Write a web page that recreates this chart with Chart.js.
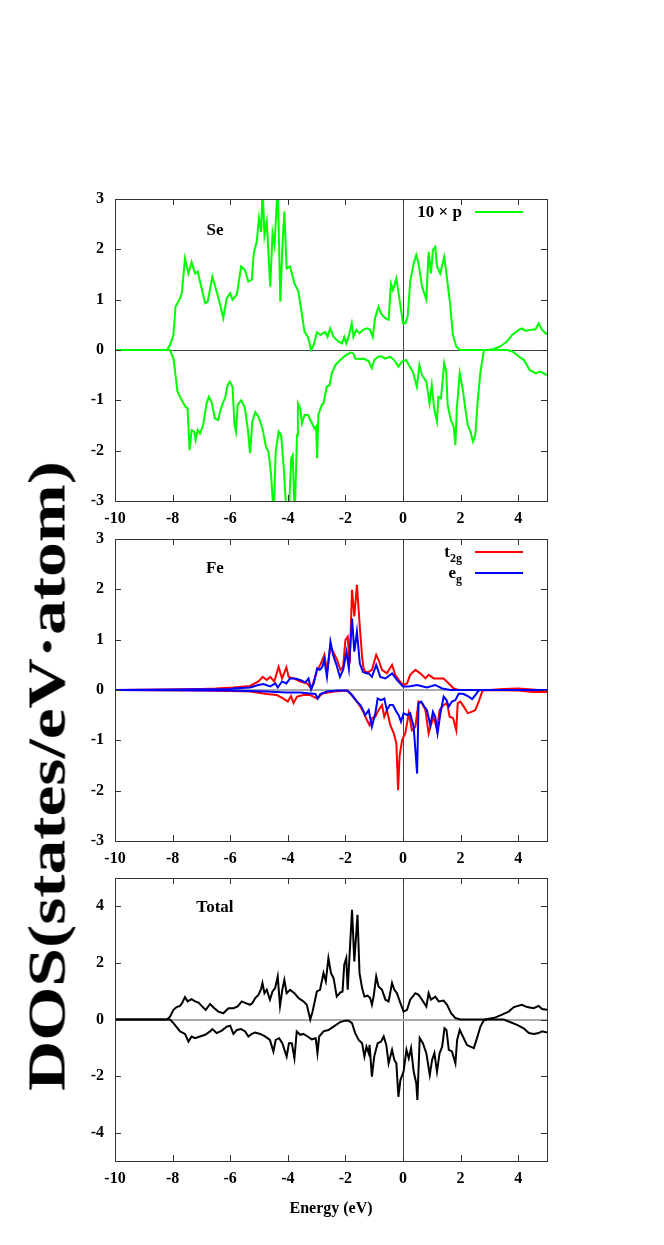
<!DOCTYPE html>
<html>
<head>
<meta charset="utf-8">
<script src="https://cdn.jsdelivr.net/npm/chart.js@4"></script>
<style>
  body { margin: 0; background: #fff; }
  #page { position: relative; width: 664px; height: 1245px; overflow: hidden; }
  canvas { position: absolute; left: 0; }
  #ytitle {
    position: absolute; left: 47px; top: 776px;
    font: bold 52px "Liberation Serif", "Times New Roman", serif;
    white-space: nowrap; color: #000;
  }
</style>
</head>
<body>
<div id="page">
  <canvas id="c1" width="664" height="360" style="top:170px"></canvas>
  <canvas id="c2" width="664" height="360" style="top:510px"></canvas>
  <canvas id="c3" width="664" height="395" style="top:850px"></canvas>
  <div id="ytitle">DOS(states/eV·atom)</div>
</div>
<script>
// ========================
// DATA  [energy (eV), DOS]
// ========================
const xTicks = [-10, -8, -6, -4, -2, 0, 2, 4];
const yTicksFe = [-3, -2, -1, 0, 1, 2, 3];
const yTicksTot = [-4, -2, 0, 2, 4];

// Se p (x10), spin up / spin down
const seUp = [[-10,0],[-8.2,0],[-8.09,0.1],[-7.97,0.3],[-7.9,0.86],[-7.74,1.03],[-7.68,1.13],[-7.57,1.82],[-7.45,1.52],[-7.34,1.75],[-7.22,1.52],[-7.13,1.56],[-6.87,0.93],[-6.78,0.96],[-6.62,1.46],[-6.47,1.16],[-6.35,0.9],[-6.24,0.63],[-6.12,1.03],[-6.0,1.13],[-5.92,1.0],[-5.77,1.1],[-5.62,1.66],[-5.5,1.6],[-5.37,1.36],[-5.25,1.4],[-5.18,1.93],[-5.08,2.15],[-5.0,2.62],[-4.92,2.35],[-4.88,3.3],[-4.81,2.28],[-4.73,2.55],[-4.61,1.26],[-4.53,2.32],[-4.46,2.08],[-4.35,3.3],[-4.26,0.96],[-4.19,2.02],[-4.12,2.75],[-4.04,1.62],[-3.92,1.66],[-3.77,1.32],[-3.63,1.16],[-3.54,0.82],[-3.42,0.36],[-3.3,0.26],[-3.19,0.0],[-3.1,0.1],[-2.99,0.35],[-2.87,0.3],[-2.7,0.36],[-2.62,0.26],[-2.53,0.43],[-2.41,0.26],[-2.24,0.17],[-2.12,0.13],[-2.04,0.26],[-1.97,0.13],[-1.89,0.26],[-1.78,0.53],[-1.72,0.26],[-1.62,0.4],[-1.51,0.33],[-1.39,0.4],[-1.25,0.43],[-1.14,0.4],[-1.05,0.26],[-0.97,0.63],[-0.85,0.86],[-0.77,0.73],[-0.62,0.63],[-0.5,0.6],[-0.42,1.32],[-0.35,1.19],[-0.23,1.42],[-0.12,1.0],[0.0,0.53],[0.08,0.53],[0.16,0.66],[0.25,1.36],[0.37,1.72],[0.46,1.89],[0.54,1.72],[0.66,1.26],[0.81,1.0],[0.89,1.95],[0.97,1.52],[1.04,1.99],[1.12,2.05],[1.18,1.66],[1.29,1.52],[1.43,1.85],[1.52,1.46],[1.64,0.89],[1.73,0.3],[1.85,0.07],[1.97,0],[2.97,0],[3.15,0.02],[3.38,0.07],[3.61,0.17],[3.79,0.3],[4.02,0.4],[4.13,0.43],[4.25,0.38],[4.42,0.4],[4.6,0.41],[4.71,0.53],[4.83,0.4],[5.0,0.31]];
const seDn = [[-10,0],[-8.09,0],[-7.97,-0.17],[-7.9,-0.5],[-7.83,-0.83],[-7.68,-1.0],[-7.55,-1.13],[-7.48,-1.16],[-7.41,-1.99],[-7.34,-1.59],[-7.25,-1.62],[-7.2,-1.79],[-7.13,-1.59],[-7.05,-1.66],[-6.94,-1.49],[-6.82,-1.06],[-6.74,-0.93],[-6.65,-1.03],[-6.53,-1.36],[-6.42,-1.39],[-6.32,-1.16],[-6.24,-1.03],[-6.18,-0.96],[-6.09,-0.7],[-6.01,-0.63],[-5.92,-0.73],[-5.85,-1.49],[-5.8,-1.62],[-5.74,-1.09],[-5.62,-1.0],[-5.5,-1.13],[-5.39,-1.56],[-5.31,-2.05],[-5.23,-1.42],[-5.13,-1.23],[-5.02,-1.32],[-4.88,-1.56],[-4.76,-1.92],[-4.67,-2.02],[-4.58,-2.48],[-4.49,-3.3],[-4.42,-2.02],[-4.32,-1.62],[-4.23,-1.69],[-4.14,-2.35],[-4.04,-3.3],[-3.97,-3.3],[-3.88,-2.15],[-3.83,-2.09],[-3.76,-3.3],[-3.68,-1.69],[-3.65,-1.06],[-3.57,-1.16],[-3.51,-1.46],[-3.42,-1.29],[-3.3,-1.29],[-3.22,-1.39],[-3.07,-1.56],[-3.02,-1.52],[-2.98,-2.15],[-2.94,-1.29],[-2.82,-1.09],[-2.76,-1.06],[-2.65,-0.73],[-2.55,-0.7],[-2.47,-0.46],[-2.35,-0.3],[-2.18,-0.2],[-2.0,-0.11],[-1.83,-0.05],[-1.72,-0.07],[-1.66,-0.17],[-1.51,-0.18],[-1.37,-0.17],[-1.2,-0.22],[-1.08,-0.36],[-1.0,-0.2],[-0.85,-0.13],[-0.73,-0.13],[-0.62,-0.17],[-0.45,-0.13],[-0.31,-0.2],[-0.16,-0.33],[-0.04,-0.23],[0.11,-0.2],[0.23,-0.33],[0.34,-0.43],[0.48,-0.73],[0.57,-0.3],[0.66,-0.5],[0.81,-0.63],[0.92,-1.06],[1.0,-0.7],[1.08,-1.16],[1.18,-1.42],[1.23,-0.93],[1.32,-0.96],[1.43,-0.26],[1.5,-0.43],[1.55,-1.09],[1.66,-1.39],[1.76,-1.52],[1.82,-1.89],[1.87,-1.16],[1.97,-0.46],[2.08,-0.8],[2.16,-1.16],[2.25,-1.49],[2.34,-1.62],[2.43,-1.82],[2.51,-1.69],[2.6,-0.96],[2.69,-0.43],[2.81,0],[3.62,0],[3.8,-0.03],[4.02,-0.13],[4.2,-0.2],[4.4,-0.4],[4.6,-0.46],[4.77,-0.43],[5.0,-0.5]];

// Fe d : t2g / eg, spin up / spin down
const t2gUp = [[-10,0],[-8,0.01],[-7,0.02],[-6.5,0.03],[-5.89,0.05],[-5.31,0.08],[-5.02,0.17],[-4.87,0.26],[-4.73,0.2],[-4.61,0.26],[-4.47,0.17],[-4.32,0.46],[-4.2,0.23],[-4.05,0.45],[-3.97,0.26],[-3.8,0.23],[-3.57,0.17],[-3.33,0.13],[-3.19,0.03],[-3.1,0.17],[-2.98,0.4],[-2.87,0.5],[-2.73,0.7],[-2.64,0.36],[-2.52,0.86],[-2.4,0.73],[-2.29,0.6],[-2.17,0.4],[-2.08,0.46],[-2.0,0.99],[-1.92,1.06],[-1.85,0.53],[-1.77,1.99],[-1.69,1.46],[-1.6,2.09],[-1.5,1.26],[-1.42,0.66],[-1.37,0.43],[-1.3,0.36],[-1.19,0.36],[-1.08,0.4],[-0.93,0.7],[-0.85,0.6],[-0.73,0.4],[-0.56,0.33],[-0.38,0.5],[-0.27,0.3],[-0.15,0.2],[0,0.1],[0.14,0.13],[0.25,0.3],[0.43,0.4],[0.6,0.33],[0.78,0.23],[0.89,0.3],[1.07,0.23],[1.24,0.23],[1.41,0.23],[1.59,0.13],[1.76,0.03],[1.94,0],[3.0,0],[3.5,0.02],[4.0,0.03],[4.5,0.01],[5.0,-0.02]];
const t2gDn = [[-10,0],[-7,-0.01],[-6,-0.02],[-5.31,-0.03],[-4.73,-0.08],[-4.38,-0.1],[-4.15,-0.17],[-4.0,-0.23],[-3.89,-0.12],[-3.8,-0.26],[-3.68,-0.13],[-3.45,-0.1],[-3.22,-0.1],[-2.98,-0.17],[-2.8,-0.07],[-2.4,-0.03],[-1.94,-0.01],[-1.83,-0.07],[-1.6,-0.23],[-1.48,-0.33],[-1.37,-0.45],[-1.25,-0.6],[-1.16,-0.7],[-1.08,-0.56],[-0.96,-0.53],[-0.85,-0.4],[-0.73,-0.3],[-0.65,-0.53],[-0.56,-0.4],[-0.44,-0.7],[-0.32,-0.86],[-0.23,-1.06],[-0.17,-1.99],[-0.12,-1.32],[-0.03,-0.99],[0.08,-0.86],[0.2,-0.46],[0.31,-0.8],[0.43,-0.73],[0.54,-0.23],[0.66,-0.26],[0.78,-0.4],[0.89,-0.86],[0.95,-0.73],[1.07,-0.53],[1.18,-0.8],[1.27,-0.4],[1.41,-0.3],[1.53,-0.26],[1.62,-0.53],[1.74,-0.56],[1.85,-0.8],[1.9,-0.26],[1.99,-0.23],[2.11,-0.33],[2.25,-0.46],[2.4,-0.43],[2.51,-0.4],[2.63,-0.23],[2.75,-0.03],[2.83,0],[4.0,-0.01],[4.5,-0.04],[5.0,-0.04]];
const egUp = [[-10,0],[-6,0.02],[-5.89,0.03],[-5.31,0.05],[-5.02,0.1],[-4.85,0.12],[-4.61,0.07],[-4.43,0.13],[-4.35,0.05],[-4.2,0.17],[-4.05,0.13],[-3.92,0.23],[-3.74,0.23],[-3.57,0.2],[-3.39,0.15],[-3.28,0.23],[-3.19,0.01],[-3.1,0.13],[-2.98,0.43],[-2.89,0.4],[-2.8,0.46],[-2.73,0.6],[-2.64,0.26],[-2.52,0.96],[-2.43,0.7],[-2.31,0.5],[-2.19,0.26],[-2.08,0.4],[-1.96,0.76],[-1.88,0.43],[-1.77,1.42],[-1.69,0.76],[-1.6,1.16],[-1.5,0.53],[-1.39,0.36],[-1.25,0.33],[-1.19,0.33],[-1.08,0.26],[-0.93,0.5],[-0.79,0.26],[-0.61,0.23],[-0.38,0.33],[-0.21,0.2],[0,0.07],[0.2,0.07],[0.49,0.1],[0.83,0.05],[1.12,0.1],[1.36,0.03],[1.65,0],[5.0,0]];
const egDn = [[-10,0],[-6,-0.01],[-4.73,-0.03],[-4.03,-0.05],[-3.57,-0.05],[-3.22,-0.07],[-3.04,-0.08],[-2.96,-0.17],[-2.87,-0.08],[-2.64,-0.03],[-2.29,-0.01],[-1.94,-0.01],[-1.77,-0.1],[-1.6,-0.23],[-1.48,-0.3],[-1.42,-0.36],[-1.31,-0.5],[-1.19,-0.4],[-1.08,-0.73],[-0.96,-0.46],[-0.88,-0.17],[-0.76,-0.2],[-0.65,-0.17],[-0.56,-0.4],[-0.46,-0.3],[-0.35,-0.3],[-0.23,-0.43],[-0.15,-0.5],[-0.07,-0.63],[0.02,-0.46],[0.14,-0.5],[0.25,-0.46],[0.37,-0.73],[0.49,-1.66],[0.54,-0.26],[0.63,-0.23],[0.74,-0.33],[0.83,-0.4],[0.95,-0.7],[1.04,-0.43],[1.12,-0.53],[1.2,-0.86],[1.3,-0.46],[1.41,-0.13],[1.51,-0.2],[1.59,-0.33],[1.7,-0.23],[1.82,-0.2],[1.94,-0.07],[2.11,-0.08],[2.28,-0.13],[2.4,-0.18],[2.51,-0.1],[2.63,-0.01],[2.7,0],[5.0,0]];

// Total DOS, spin up / spin down
const totUp = [[-10,0],[-8.2,0],[-8.09,0.1],[-7.97,0.34],[-7.86,0.44],[-7.74,0.48],[-7.66,0.6],[-7.57,0.79],[-7.48,0.64],[-7.34,0.72],[-7.22,0.64],[-7.1,0.6],[-6.99,0.48],[-6.85,0.34],[-6.7,0.55],[-6.55,0.4],[-6.41,0.28],[-6.24,0.22],[-6.06,0.4],[-5.89,0.4],[-5.74,0.46],[-5.6,0.64],[-5.46,0.58],[-5.31,0.52],[-5.23,0.58],[-5.13,0.76],[-5.02,0.87],[-4.93,1.07],[-4.88,1.29],[-4.81,0.93],[-4.73,1.05],[-4.62,0.7],[-4.53,0.99],[-4.44,1.11],[-4.35,1.52],[-4.27,0.48],[-4.19,1.05],[-4.12,1.4],[-4.04,0.93],[-3.92,1.05],[-3.77,0.93],[-3.63,0.76],[-3.46,0.64],[-3.34,0.52],[-3.22,0.0],[-3.14,0.28],[-2.99,0.99],[-2.88,1.05],[-2.76,1.64],[-2.68,1.35],[-2.59,2.17],[-2.5,1.64],[-2.41,1.46],[-2.3,0.81],[-2.18,0.95],[-2.1,0.99],[-2.04,1.94],[-1.97,2.17],[-1.92,1.05],[-1.77,3.88],[-1.69,2.05],[-1.58,3.7],[-1.51,1.64],[-1.42,1.11],[-1.34,0.81],[-1.23,0.84],[-1.14,0.76],[-1.08,0.52],[-1.02,0.81],[-0.93,1.52],[-0.85,1.17],[-0.73,1.05],[-0.61,0.7],[-0.5,0.64],[-0.38,1.29],[-0.3,1.05],[-0.21,0.93],[-0.09,0.58],[0.02,0.28],[0.14,0.34],[0.25,0.7],[0.43,0.93],[0.54,0.87],[0.66,0.7],[0.81,0.46],[0.89,0.93],[0.97,0.7],[1.12,0.81],[1.24,0.64],[1.41,0.67],[1.53,0.52],[1.67,0.22],[1.82,0.05],[1.99,0],[2.8,0],[3.15,0.05],[3.44,0.17],[3.67,0.28],[3.85,0.44],[4.13,0.52],[4.31,0.44],[4.54,0.4],[4.71,0.48],[4.83,0.37],[5.0,0.34]];
const totDn = [[-10,0],[-8.09,0],[-7.97,-0.13],[-7.86,-0.27],[-7.74,-0.42],[-7.57,-0.51],[-7.45,-0.78],[-7.34,-0.6],[-7.22,-0.66],[-7.05,-0.6],[-6.87,-0.54],[-6.7,-0.42],[-6.62,-0.34],[-6.47,-0.48],[-6.29,-0.39],[-6.12,-0.25],[-6.0,-0.22],[-5.89,-0.51],[-5.77,-0.37],[-5.62,-0.34],[-5.48,-0.42],[-5.37,-0.6],[-5.25,-0.51],[-5.13,-0.46],[-4.96,-0.51],[-4.79,-0.6],[-4.62,-0.72],[-4.5,-1.13],[-4.42,-0.72],[-4.3,-0.66],[-4.19,-0.84],[-4.04,-1.31],[-3.96,-0.84],[-3.86,-0.84],[-3.77,-1.37],[-3.69,-0.42],[-3.57,-0.54],[-3.46,-0.51],[-3.31,-0.6],[-3.17,-0.7],[-3.03,-0.66],[-2.97,-1.19],[-2.91,-0.6],[-2.76,-0.42],[-2.59,-0.37],[-2.41,-0.25],[-2.18,-0.09],[-2.01,-0.04],[-1.89,-0.04],[-1.77,-0.13],[-1.66,-0.48],[-1.54,-0.72],[-1.42,-0.84],[-1.34,-1.31],[-1.27,-0.96],[-1.19,-1.19],[-1.16,-0.9],[-1.08,-2.02],[-1.0,-1.31],[-0.88,-0.84],[-0.76,-0.78],[-0.67,-0.6],[-0.58,-0.9],[-0.5,-1.55],[-0.38,-1.07],[-0.3,-1.43],[-0.23,-1.55],[-0.16,-2.73],[-0.09,-2.14],[0.02,-1.84],[0.12,-1.07],[0.2,-1.37],[0.28,-1.01],[0.37,-1.84],[0.46,-2.25],[0.5,-2.84],[0.58,-0.66],[0.69,-0.84],[0.81,-1.19],[0.93,-1.96],[1.01,-1.43],[1.09,-1.19],[1.18,-1.84],[1.27,-1.19],[1.36,-0.96],[1.44,-0.31],[1.51,-0.37],[1.59,-1.07],[1.7,-1.13],[1.82,-1.55],[1.88,-0.72],[1.97,-0.37],[2.08,-0.6],[2.22,-0.9],[2.34,-0.96],[2.46,-1.01],[2.57,-0.66],[2.69,-0.25],[2.8,-0.04],[2.92,0],[3.5,0],[3.67,-0.07],[3.96,-0.19],[4.19,-0.31],[4.37,-0.48],[4.54,-0.51],[4.71,-0.48],[4.83,-0.42],[5.0,-0.46]];

// ========================
// STYLE
// ========================
const FONT = '"Liberation Serif", "Times New Roman", serif';
const GREEN = '#00ff00', RED = '#ff0000', BLUE = '#0000ff', BLACK = '#000000';

// =====================================================
// frame + inward ticks + panel label + legend (gnuplot look)
// =====================================================
const framePlugin = {
    id: 'frame',
    afterDatasetsDraw(chart, args, opts) {
        const { ctx, chartArea: a, scales: { x, y } } = chart;
        ctx.save();
        ctx.strokeStyle = '#333';
        ctx.lineWidth = 1;
        ctx.strokeRect(a.left + 0.5, a.top + 0.5, a.right - a.left, a.bottom - a.top);

        ctx.beginPath();
        x.ticks.forEach(t => {
            const px = Math.round(x.getPixelForValue(t.value)) + 0.5;
            ctx.moveTo(px, a.bottom); ctx.lineTo(px, a.bottom - 6);
            ctx.moveTo(px, a.top); ctx.lineTo(px, a.top + 6);
        });
        y.ticks.forEach(t => {
            const py = Math.round(y.getPixelForValue(t.value)) + 0.5;
            ctx.moveTo(a.left, py); ctx.lineTo(a.left + 6, py);
            ctx.moveTo(a.right, py); ctx.lineTo(a.right - 6, py);
        });
        ctx.stroke();

        // panel name
        ctx.fillStyle = '#000';
        ctx.font = 'bold 17px ' + FONT;
        ctx.textAlign = 'center';
        ctx.textBaseline = 'middle';
        ctx.fillText(opts.label, x.getPixelForValue(opts.labelAt[0]), y.getPixelForValue(opts.labelAt[1]));

        // legend with subscripts
        opts.legend.forEach((e, i) => {
            const ly = a.top + 13 + i * 21;
            const right = a.right - 85;
            ctx.font = 'bold 17px ' + FONT;
            const w1 = ctx.measureText(e.text).width;
            ctx.font = 'bold 12px ' + FONT;
            const w2 = e.sub ? ctx.measureText(e.sub).width : 0;
            ctx.textAlign = 'left';
            ctx.textBaseline = 'alphabetic';
            ctx.font = 'bold 17px ' + FONT;
            ctx.fillText(e.text, right - w1 - w2, ly + 5);
            if (e.sub) {
                ctx.font = 'bold 12px ' + FONT;
                ctx.fillText(e.sub, right - w2, ly + 10);
            }
            ctx.strokeStyle = e.color;
            ctx.lineWidth = 2;
            ctx.beginPath();
            ctx.moveTo(a.right - 72, ly); ctx.lineTo(a.right - 24, ly);
            ctx.stroke();
        });
        ctx.restore();
    }
};

function line(pairs, color, order) {
    return {
        data: pairs.map(([x, y]) => ({ x, y })),
        borderColor: color, borderWidth: 2,
        pointRadius: 0, tension: 0, clip: 0, order
    };
}

function makePanel(id, p) {
    return new Chart(document.getElementById(id), {
        type: 'line',
        data: { datasets: p.datasets },
        options: {
            responsive: false,
            animation: false,
            events: [],
            layout: { padding: { left: 0, right: 117, top: p.top, bottom: 0 } },
            plugins: {
                legend: { display: false },
                tooltip: { enabled: false },
                frame: { label: p.label, labelAt: p.labelAt, legend: p.legend }
            },
            scales: {
                x: {
                    type: 'linear', min: -10, max: 5,
                    afterBuildTicks: s => { s.ticks = xTicks.map(v => ({ value: v })); },
                    afterFit: s => { s.height = p.xh; },
                    border: { display: false },
                    grid: {
                        drawTicks: false,
                        color: c => c.tick && c.tick.value === 0 ? '#444' : 'rgba(0,0,0,0)',
                        lineWidth: 1
                    },
                    ticks: {
                        color: '#000', padding: 8, maxRotation: 0, autoSkip: false,
                        font: { family: FONT, size: 16, weight: 'bold' }
                    },
                    title: p.xtitle ? {
                        display: true, text: 'Energy (eV)', color: '#000',
                        font: { family: FONT, size: 16, weight: 'bold' },
                        padding: { top: 0, bottom: 27 }
                    } : { display: false }
                },
                y: {
                    min: p.ymin, max: p.ymax,
                    afterBuildTicks: s => { s.ticks = p.yticks.map(v => ({ value: v })); },
                    afterFit: s => { s.width = 115; },
                    border: { display: false },
                    grid: {
                        drawTicks: false,
                        color: c => c.tick && c.tick.value === 0 ? p.zeroColor : 'rgba(0,0,0,0)',
                        lineWidth: p.zeroWidth
                    },
                    ticks: {
                        color: '#000', padding: 11,
                        font: { family: FONT, size: 16, weight: 'bold' }
                    }
                }
            }
        },
        plugins: [framePlugin]
    });
}

// =====================================================
// PANELS
// =====================================================
makePanel('c1', {
    top: 29, xh: 29, ymin: -3, ymax: 3, yticks: yTicksFe,
    zeroColor: '#444', zeroWidth: 1,
    label: 'Se', labelAt: [-6.53, 2.37],
    legend: [{ text: '10 \u00d7 p', sub: '', color: GREEN }],
    datasets: [line(seUp, GREEN, 0), line(seDn, GREEN, 0)]
});

makePanel('c2', {
    top: 29, xh: 29, ymin: -3, ymax: 3, yticks: yTicksFe,
    zeroColor: '#aaa', zeroWidth: 2,
    label: 'Fe', labelAt: [-6.53, 2.41],
    legend: [{ text: 't', sub: '2g', color: RED }, { text: 'e', sub: 'g', color: BLUE }],
    datasets: [line(egUp, BLUE, 0), line(egDn, BLUE, 0), line(t2gUp, RED, 1), line(t2gDn, RED, 1)]
});

makePanel('c3', {
    top: 28, xh: 84, ymin: -5, ymax: 5, yticks: yTicksTot, xtitle: true,
    zeroColor: '#aaa', zeroWidth: 2,
    label: 'Total', labelAt: [-6.53, 3.95],
    legend: [],
    datasets: [line(totUp, BLACK, 0), line(totDn, BLACK, 0)]
});

// big rotated y title spanning the three panels
const yt = document.getElementById('ytitle');
const sx = 630 / yt.offsetWidth;
yt.style.transform = 'translate(-50%,-50%) rotate(-90deg) scaleX(' + sx.toFixed(3) + ')';
</script>
</body>
</html>
